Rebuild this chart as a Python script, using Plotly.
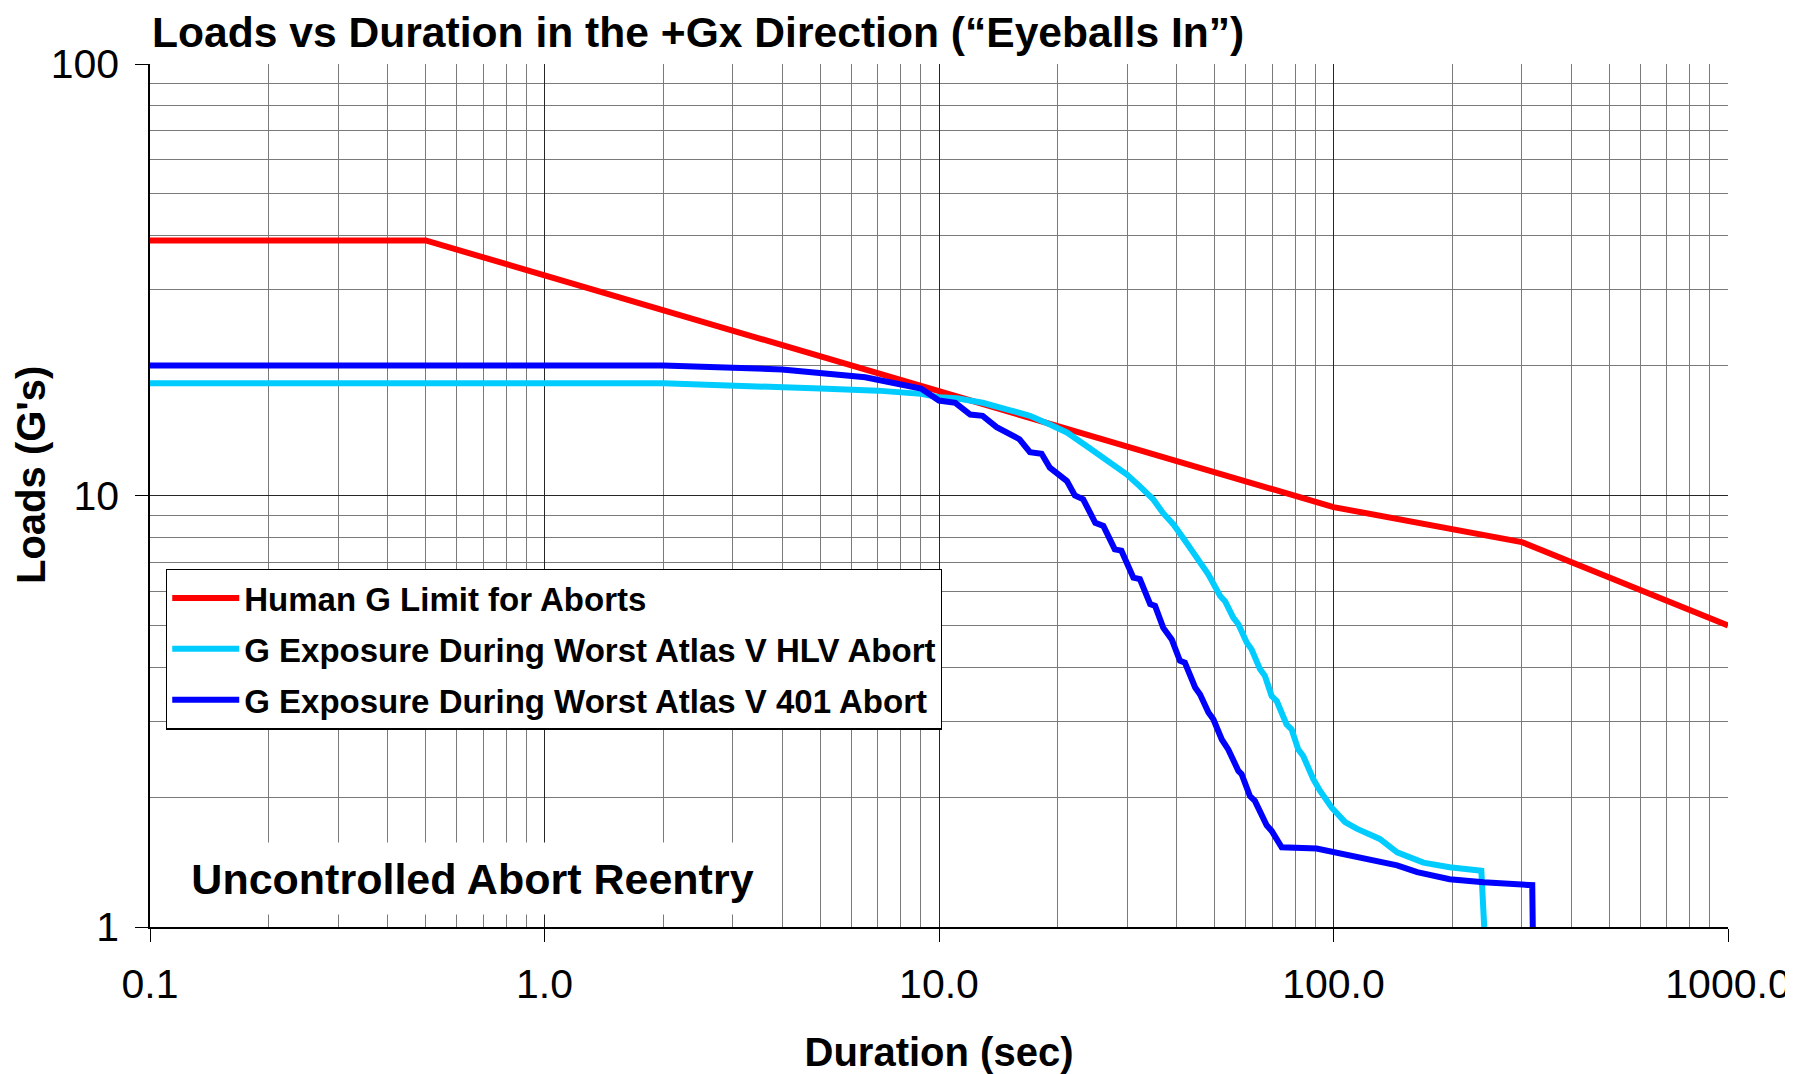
import plotly.graph_objects as go

# ---------------- data ----------------
limit_x = [0.1, 0.5, 100, 300, 1000]
limit_y = [39, 39, 9.4, 7.8, 5.0]

hlv_x = [0.1, 2, 5, 7, 9, 10, 11.1, 12.9, 15, 17, 19.1, 21.1, 23.7, 25.8, 27.7,
         29.9, 32.3, 34.9, 37, 39.3, 42.4, 45.9, 48.2, 51.6, 53.1, 55.7, 57.4, 60.3,
         62, 65.1, 67, 69.7, 71.8, 76, 78.3, 81.4, 83.8, 88.9, 92.4, 99, 107, 114.5,
         131, 145, 169, 197, 237, 241]
hlv_y = [18.2, 18.2, 17.7, 17.5, 17.2, 16.9, 16.8, 16.4, 15.8, 15.3, 14.6, 14.0, 13.0,
         12.3, 11.7, 11.2, 10.5, 9.8, 9.1, 8.57, 7.77, 6.95, 6.56, 5.85, 5.69, 5.21,
         5.03, 4.56, 4.40, 3.96, 3.82, 3.43, 3.34, 2.95, 2.87, 2.58, 2.49, 2.20, 2.07,
         1.89, 1.75, 1.69, 1.60, 1.49, 1.41, 1.375, 1.35, 1.0]

a401_x = [0.1, 2, 4, 6.5, 9, 10, 11, 12, 12.9, 14, 16, 17, 18.2, 19.1, 21.1, 22.1,
          23.2, 24.9, 26.1, 27.9, 29, 31.1, 32.3, 34.3, 35.3, 37, 38.9, 40.8, 42,
          44.6, 45.9, 48.2, 49.6, 52.1, 54.1, 57.4, 58.5, 61.4, 63.2, 67.7, 69.7,
          73.9, 90.6, 100, 121, 145, 163, 197, 240, 319, 320]
a401_y = [20.0, 20.0, 19.6, 18.8, 17.7, 16.6, 16.4, 15.4, 15.3, 14.4, 13.5, 12.6, 12.5,
          11.6, 10.8, 10.0, 9.8, 8.64, 8.5, 7.5, 7.45, 6.45, 6.4, 5.6, 5.55, 4.94,
          4.64, 4.14, 4.10, 3.59, 3.46, 3.14, 3.03, 2.72, 2.58, 2.30, 2.26, 2.01, 1.96,
          1.72, 1.67, 1.53, 1.52, 1.49, 1.44, 1.39, 1.34, 1.29, 1.27, 1.25, 1.0]

x_tickvals = [0.1, 1, 10, 100, 1000]
x_ticktext = ["0.1", "1.0", "10.0", "100.0", "1000.0"]
y_tickvals = [1, 10, 100]
y_ticktext = ["1", "10", "100"]

names = ["Human G Limit for Aborts",
         "G Exposure During Worst Atlas V HLV Abort",
         "G Exposure During Worst Atlas V 401 Abort"]
colors = ["#FF0000", "#00CCFF", "#0000FF"]

FONT = "Liberation Sans, Arial, sans-serif"

x_minor = [m * 10 ** e for e in range(-1, 3) for m in range(2, 10)]
y_minor = [m * 10 ** e for e in range(0, 2) for m in range(2, 10)]

# page body adds an 8px offset; size the figure so the plot lands where it should
W, H = 1785, 1066
ML, MR, MT, MB = 142, 65, 56, 147
PW, PH = W - ML - MR, H - MT - MB

fig = go.Figure()
for i, (xs, ys) in enumerate([(limit_x, limit_y), (hlv_x, hlv_y), (a401_x, a401_y)]):
    fig.add_trace(go.Scatter(x=xs, y=ys, mode="lines", name=names[i],
                             legendgroup=f"g{i}",
                             line=dict(color=colors[i], width=6)))

fig.update_layout(
    width=W, height=H,
    margin=dict(l=ML, r=MR, t=MT, b=MB),
    paper_bgcolor="white", plot_bgcolor="white",
    font=dict(family=FONT, color="black"),
    title=dict(text="Loads vs Duration in the +Gx Direction (“Eyeballs In”)",
               x=144 / W, xanchor="left", xref="container",
               y=1 - 24 / H, yanchor="middle", yref="container",
               font=dict(family=FONT, size=42.6, weight="bold", color="black")),
    legend=dict(x=0.0101, y=0.4152, xanchor="left", yanchor="top",
                bgcolor="white", bordercolor="black", borderwidth=1.3,
                font=dict(family=FONT, size=33, weight="bold"),
                itemwidth=67,
                tracegroupgap=5, traceorder="grouped"),
    showlegend=True,
)

fig.update_xaxes(
    type="log", range=[-1, 3], automargin=False,
    tickvals=x_tickvals, ticktext=x_ticktext,
    ticks="outside", ticklen=13, tickcolor="black", tickwidth=1,
    ticklabelstandoff=7,
    tickfont=dict(family=FONT, size=41, color="black"),
    showline=True, linecolor="black", linewidth=1.5,
    showgrid=True, gridcolor="#262626", gridwidth=1,
    minor=dict(tickvals=x_minor, showgrid=True, gridcolor="#7a7a7a", gridwidth=1.2, ticks=""),
    title=dict(text="Duration (sec)", standoff=38,
               font=dict(family=FONT, size=40, weight="bold", color="black")),
    zeroline=False,
)
fig.update_yaxes(
    type="log", range=[0, 2], automargin=False,
    tickvals=y_tickvals, ticktext=y_ticktext,
    ticks="outside", ticklen=13, tickcolor="black", tickwidth=1,
    ticklabelstandoff=8,
    tickfont=dict(family=FONT, size=41, color="black"),
    showline=True, linecolor="black", linewidth=1.5,
    showgrid=True, gridcolor="#262626", gridwidth=1,
    minor=dict(tickvals=y_minor, showgrid=True, gridcolor="#7a7a7a", gridwidth=1.2, ticks=""),
    zeroline=False,
)

# y-axis title (placed as annotation: it sits slightly above the axis centre)
fig.add_annotation(
    text="Loads (G's)", textangle=-90,
    xref="paper", yref="paper", x=(23 - ML) / PW, y=1 - (467 - MT) / PH,
    xanchor="center", yanchor="middle", showarrow=False,
    font=dict(family=FONT, size=40, weight="bold", color="black"),
)

fig.add_annotation(
    text="Uncontrolled Abort Reentry",
    xref="paper", yref="paper", x=(472 - 150) / PW, y=(927 - 878.5) / PH,
    xanchor="center", yanchor="middle", showarrow=False,
    width=575, height=65, borderpad=3, bgcolor="white",
    font=dict(family=FONT, size=43, weight="bold", color="black"),
)

fig.write_html("out.html")
